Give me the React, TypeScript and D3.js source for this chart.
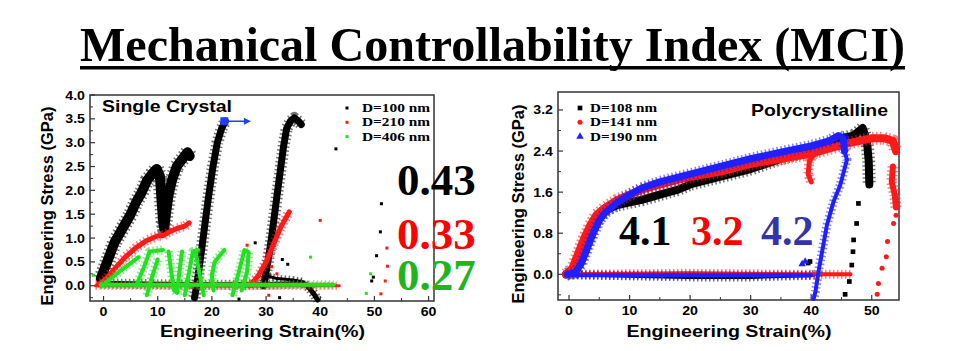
import React from "react";
import * as d3 from "d3";

// ---- single crystal panel (left) ----
const black100Cycle1 = [[-0.5,0.15],[1,0.6],[2,0.9],[3,1.1],[4,1.3],[5,1.5],[6,1.75],[7,1.95],[8,2.2],[9,2.35],[9.8,2.45],[10.4,2.3],[10.7,1.8],[11,1.35],[11.2,1.2],[11.5,1.5],[12,1.9],[12.6,2.2],[13.5,2.5],[14.5,2.65],[15.5,2.8],[15.9,2.72]];
const black100Cycle2 = [[16.8,-0.25],[17.2,0.0],[17.8,0.5],[18.5,1.1],[19.3,1.8],[20.2,2.5],[21,3.0],[21.8,3.3],[22.5,3.45]];
const black100Cycle3 = [[29.5,0.0],[30.2,0.4],[31,1.0],[31.8,1.7],[32.5,2.3],[33.2,2.9],[33.8,3.3],[34.5,3.45],[35.2,3.52],[36,3.45],[36.5,3.38]];
const black100Base = [[-0.5,0.05],[10,0.03],[20,0.02],[30,0.02],[37,0.05],[38,-0.05],[39,-0.2],[39.5,-0.3]];
const black100Bump = [[30.5,0.2],[32,0.15],[35,0.12],[37,0.08]];
const black100Dots = [[42.9,2.87],[51.3,1.72],[51.1,1.13],[50.4,0.63],[49.8,0.18],[49.5,0.1],[33,0.55],[34,0.45],[28,0.9],[32.5,-0.25],[25,-0.28]];

const red210Cycle1 = [[-1,0.02],[0.5,0.15],[2,0.35],[4,0.6],[6,0.8],[8,0.95],[10,1.05],[11,1.05],[12,1.12],[13.5,1.2],[15,1.25],[15.8,1.32]];
const red210Cycle2 = [[27,0.0],[28.5,0.2],[30,0.5],[31.5,0.9],[32.8,1.25],[33.8,1.45],[34.3,1.55]];
const red210Base = [[-1.5,0.0],[43.5,0.0]];
const red210Dots = [[40,1.37],[52.3,0.79],[52.4,0.41],[52,0.1],[51.2,-0.17],[26.5,0.85],[31,0.4],[32,0.25],[30.5,-0.2],[20,0.25]];

const green406Strokes = [
  [[-0.3,0.0],[3,0.3],[6.5,0.6]],
  [[6,0.0],[7.5,0.4],[8.5,0.72],[11,0.75]],
  [[8,-0.2],[9,0.2],[10,0.55]],
  [[12,0.72],[12.5,0.3],[13,-0.1],[13.6,-0.15],[14,0.3],[14.5,0.72]],
  [[15,-0.2],[15.8,0.3],[16.5,0.72],[17.5,0.75]],
  [[17,0.7],[17.8,0.2],[18.5,-0.2]],
  [[22.3,0.75],[20.5,0.5],[20,0.2],[20.3,-0.1]],
  [[23.8,-0.2],[25,0.3],[26,0.75],[26.8,0.7],[26.5,0.3],[25.5,-0.1]],
];
const green406Base = [[-0.5,0.02],[42.5,0.02]];
const green406Dots = [[38.2,0.6],[49.3,0.25],[48.5,-0.16],[-1.9,0.22]];

const arrowStart = [22.3, 3.45];
const arrowEnd = [27.2, 3.45];

// ---- polycrystalline panel (right) ----
const black108Load = [[-0.5,0.0],[1,0.05],[2,0.3],[3,0.6],[4,0.9],[5,1.1],[6,1.25],[7,1.3],[8,1.35],[10,1.4],[12,1.45],[15,1.55],[18,1.65],[20,1.75],[25,1.9],[30,2.05],[35,2.25],[38,2.35],[40,2.4],[43,2.55],[45,2.65],[47,2.7],[48.5,2.85],[49.2,2.6],[49.5,2.2],[49.6,1.75]];
const black108Base = [[0,0.0],[10,-0.03],[20,-0.05],[30,-0.05],[40,-0.02],[40.5,0.0]];
const black108Dots = [[47.8,1.38],[47.5,0.99],[47,0.67],[46.9,0.44],[46.7,0.18],[46.3,-0.14],[45.6,-0.39],[39.8,0.25],[39.5,0.22]];

const red141Load = [[-0.5,0.0],[0.5,0.1],[1.5,0.4],[2.5,0.7],[3.5,0.95],[4.5,1.15],[6,1.3],[8,1.45],[10,1.55],[12,1.65],[15,1.75],[20,1.9],[25,2.0],[30,2.15],[35,2.25],[40,2.35],[43,2.45],[46,2.55],[48,2.6],[50,2.65],[52,2.65],[53.5,2.6],[54,2.4]];
const red141Branch = [[40.5,2.35],[39.7,2.2],[39.5,1.95],[40,1.8]];
const red141Tail = [[53.5,2.1],[53.3,1.8],[53.8,1.55],[54,1.3]];
const red141Base = [[0,0.0],[20,0.02],[40,0.0],[44,0.0],[46.5,0.0]];
const red141Dots = [[53.6,0.99],[52.6,0.64],[52.4,0.34],[51.7,0.12],[51.1,-0.18],[50.9,-0.39],[54,1.15]];

const blue190Load = [[-0.3,0.0],[1,0.03],[2,0.2],[3,0.5],[4,0.8],[5,1.05],[6,1.2],[7,1.3],[8,1.4],[10,1.55],[12,1.68],[15,1.8],[20,1.95],[25,2.1],[30,2.25],[35,2.38],[40,2.5],[43,2.6],[44.5,2.7],[45.3,2.65],[45.5,2.4]];
const blue190Unload = [[45.5,2.4],[45.9,2.23],[44.8,1.74],[43.7,1.42],[42.6,0.96],[41.8,0.44],[41.2,0.05],[40.7,-0.34],[40.4,-0.48]];
const blue190Base = [[0,-0.02],[20,-0.02],[40,-0.02]];
const blue190Dots = [[38.5,0.2],[39,0.25]];

const leftLegend = ["D=100 nm", "D=210 nm", "D=406 nm"];
const rightLegend = ["D=108 nm", "D=141 nm", "D=190 nm"];
const mciLeft = ["0.43", "0.33", "0.27"];
const mciRight = ["4.1", "3.2", "4.2"];

const BLACK = "#000";
const RED = "#ff1a1a";
const GREEN = "#22e022";
const BLUE = "#1f1fff";
const SANS = "'Liberation Sans', Arial, sans-serif";
const SERIF = "'Liberation Serif', 'Times New Roman', serif";

type Pt = number[];

// the source picture is stretched sideways, so horizontal labels get a wider x scale
const Wide = ({ x, y, sx = 1.18, anchor = "start", size, family = SANS, children }: any) => (
  <text transform={`translate(${x},${y}) scale(${sx},1)`} textAnchor={anchor} fontFamily={family}
    fontWeight="bold" fontSize={size}>{children}</text>
);

const Frame = ({ x, y, xMaj, xMin, yMaj, yMin, yFmt, yTitleX }: any) => {
  const [x0, x1] = x.range();
  const [y1, y0] = y.range();
  return (
    <g>
      <rect x={x0} y={y0} width={x1 - x0} height={y1 - y0} fill="none" stroke="#333" strokeWidth={1.5} />
      {xMin.map((t: number) => (
        <line key={"xm" + t} x1={x(t)} x2={x(t)} y1={y1} y2={y1 - 3} stroke="#333" />
      ))}
      {xMaj.map((t: number) => (
        <g key={"xM" + t}>
          <line x1={x(t)} x2={x(t)} y1={y1} y2={y1 - 5} stroke="#333" strokeWidth={1.2} />
          <Wide x={x(t)} y={y1 + 15} anchor="middle" size={12}>{t}</Wide>
        </g>
      ))}
      {yMin.map((t: number) => (
        <line key={"ym" + t} x1={x0} x2={x0 + 3} y1={y(t)} y2={y(t)} stroke="#333" />
      ))}
      {yMaj.map((t: number) => (
        <g key={"yM" + t}>
          <line x1={x0} x2={x0 + 5} y1={y(t)} y2={y(t)} stroke="#333" strokeWidth={1.2} />
          <Wide x={x0 - 5} y={y(t) + 4.5} anchor="end" size={12}>{yFmt(t)}</Wide>
        </g>
      ))}
      <text x={(x0 + x1) / 2 - 102} y={337} fontFamily={SANS} fontWeight="bold" fontSize={16.5}
        textLength={205} lengthAdjust="spacingAndGlyphs">Engineering Strain(%)</text>
      <text transform={`translate(${yTitleX},${(y0 + y1) / 2 + 8}) rotate(-90)`} textAnchor="middle"
        fontFamily={SANS} fontWeight="bold" fontSize={16.5}>Engineering Stress (GPa)</text>
    </g>
  );
};

export default function App() {
  // left panel scales
  const xL = d3.scaleLinear().domain([-2.5, 61.0]).range([90, 434]);
  const yL = d3.scaleLinear().domain([-0.32, 4.0]).range([301, 95]);
  // right panel scales
  const xR = d3.scaleLinear().domain([-1.82, 54.5]).range([558, 899]);
  const yR = d3.scaleLinear().domain([-0.5, 3.55]).range([300, 92]);

  const lineL = d3.line<Pt>().x((d) => xL(d[0])).y((d) => yL(d[1]));
  const lineR = d3.line<Pt>().x((d) => xR(d[0])).y((d) => yR(d[1]));

  // dense point clouds: solid core plus a speckled halo
  const band = (gen: any, pts: Pt[], color: string, w: number, key: string) => (
    <g key={key}>
      <path d={gen(pts)} fill="none" stroke={color} strokeWidth={w + 5} strokeOpacity={0.55}
        strokeDasharray="1.5 2.5" strokeLinejoin="round" />
      <path d={gen(pts)} fill="none" stroke={color} strokeWidth={w} strokeLinejoin="round" strokeLinecap="round" />
    </g>
  );

  const sq = d3.symbol().type(d3.symbolSquare).size(22)();
  const circ = d3.symbol().type(d3.symbolCircle).size(20)();
  const tri = d3.symbol().type(d3.symbolTriangle).size(24)();

  return (
    <svg width={973} height={351} style={{ display: "block", position: "absolute", left: 0, top: 0, background: "#fff" }}>
      {/* title */}
      <text x={80} y={61} fontFamily={SERIF} fontWeight="bold" fontSize={48} textLength={825} lengthAdjust="spacingAndGlyphs">
        Mechanical Controllability Index (MCI)
      </text>
      <rect x={80} y={66} width={825} height={3.5} fill="#000" />

      {/* left panel */}
      <Frame x={xL} y={yL} xMaj={d3.range(0, 61, 10)} xMin={d3.range(5, 61, 10)}
        yMaj={d3.range(0, 4.01, 0.5)} yMin={d3.range(-0.25, 4, 0.5)} yFmt={d3.format(".1f")} yTitleX={53} />
      <g>
        {band(lineL, black100Base, BLACK, 5, "bb")}
        {band(lineL, black100Bump, BLACK, 3, "bbump")}
        {band(lineL, black100Cycle1, BLACK, 10, "bc1")}
        {band(lineL, black100Cycle2, BLACK, 7, "bc2")}
        {band(lineL, black100Cycle3, BLACK, 7, "bc3")}
        {black100Dots.map((d, i) => <rect key={"bd" + i} x={xL(d[0]) - 1.5} y={yL(d[1]) - 1.5} width={3} height={3} fill={BLACK} />)}
        {band(lineL, red210Base, RED, 3, "rb")}
        {band(lineL, red210Cycle1, RED, 5, "rc1")}
        {band(lineL, red210Cycle2, RED, 5, "rc2")}
        {red210Dots.map((d, i) => <rect key={"rd" + i} x={xL(d[0]) - 1.5} y={yL(d[1]) - 1.5} width={3} height={3} fill={RED} />)}
        {green406Strokes.map((s, i) => band(lineL, s, GREEN, 4, "gs" + i))}
        {band(lineL, green406Base, GREEN, 4, "gb")}
        {green406Dots.map((d, i) => <rect key={"gd" + i} x={xL(d[0]) - 1.5} y={yL(d[1]) - 1.5} width={3} height={3} fill={GREEN} />)}
        {/* blue marker + arrow */}
        <line x1={xL(arrowStart[0])} x2={xL(arrowEnd[0]) - 5} y1={yL(arrowStart[1])} y2={yL(arrowEnd[1])} stroke="#1f3fff" strokeWidth={1.5} />
        <path d={`M${xL(arrowEnd[0])},${yL(arrowEnd[1])} l-7,-3.5 l0,7 z`} fill="#1f3fff" />
        <rect x={xL(arrowStart[0]) - 4} y={yL(arrowStart[1]) - 4} width={8} height={8} fill="#1f3fff" />
      </g>
      <text x={102} y={112} fontFamily={SANS} fontWeight="bold" fontSize={16.5} textLength={130} lengthAdjust="spacingAndGlyphs">Single Crystal</text>
      {leftLegend.map((t, i) => (
        <g key={t} transform={`translate(347,${108 + i * 14.3})`}>
          <rect x={-1.5} y={-1.5} width={3} height={3} fill={[BLACK, RED, GREEN][i]} />
          <text x={15} y={4} fontFamily={SERIF} fontWeight="bold" fontSize={12.5} textLength={68} lengthAdjust="spacingAndGlyphs">{t}</text>
        </g>
      ))}
      {mciLeft.map((t, i) => (
        <text key={t + i} x={397} y={[195, 249, 290][i]} fontFamily={SERIF} fontWeight="bold" fontSize={45}
          fill={[BLACK, "#ff0000", "#1fb51f"][i]}>{t}</text>
      ))}

      {/* right panel */}
      <Frame x={xR} y={yR} xMaj={d3.range(0, 51, 10)} xMin={d3.range(5, 51, 10)}
        yMaj={[0, 0.8, 1.6, 2.4, 3.2]} yMin={[-0.4, 0.4, 1.2, 2.0, 2.8]} yFmt={d3.format(".1f")} yTitleX={524} />
      <g>
        {band(lineR, black108Base, BLACK, 4, "b2b")}
        {band(lineR, black108Load, BLACK, 8, "b2l")}
        {black108Dots.map((d, i) => <path key={"b2d" + i} transform={`translate(${xR(d[0])},${yR(d[1])})`} d={sq!} fill={BLACK} />)}
        {band(lineR, red141Base, RED, 4, "r2b")}
        {band(lineR, red141Load, RED, 8, "r2l")}
        {band(lineR, red141Branch, RED, 5, "r2br")}
        {band(lineR, red141Tail, RED, 6, "r2t")}
        {red141Dots.map((d, i) => <path key={"r2d" + i} transform={`translate(${xR(d[0])},${yR(d[1])})`} d={circ!} fill={RED} />)}
        {band(lineR, blue190Base, BLUE, 4, "u2b")}
        {band(lineR, blue190Load, BLUE, 7, "u2l")}
        {band(lineR, blue190Unload, BLUE, 4, "u2u")}
        {blue190Dots.map((d, i) => <path key={"u2d" + i} transform={`translate(${xR(d[0])},${yR(d[1])})`} d={tri!} fill={BLUE} />)}
      </g>
      <text x={751} y={116} fontFamily={SANS} fontWeight="bold" fontSize={17} textLength={137} lengthAdjust="spacingAndGlyphs">Polycrystalline</text>
      {rightLegend.map((t, i) => (
        <g key={t} transform={`translate(580,${108 + i * 14.3})`}>
          <path d={[sq, circ, tri][i]!} fill={[BLACK, RED, BLUE][i]} />
          <text x={10} y={4} fontFamily={SERIF} fontWeight="bold" fontSize={12.5} textLength={67} lengthAdjust="spacingAndGlyphs">{t}</text>
        </g>
      ))}
      {mciRight.map((t, i) => (
        <text key={t + i} x={[619, 691, 761][i]} y={245} fontFamily={SERIF} fontWeight="bold" fontSize={42}
          fill={[BLACK, "#ff0000", "#3333aa"][i]}>{t}</text>
      ))}
    </svg>
  );
}
